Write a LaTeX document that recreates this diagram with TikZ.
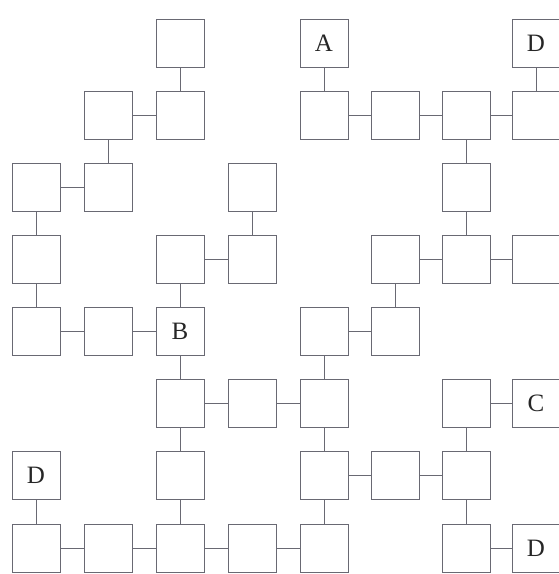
\documentclass[tikz,border=0pt]{standalone}
\usepackage{fontspec}
\setmainfont{Liberation Serif}
\definecolor{linec}{RGB}{105,105,115}
\begin{document}
\begin{tikzpicture}[x=1pt,y=-1pt,
  box/.style={draw=linec, line width=0.9pt, minimum size=48pt, inner sep=0pt,
    font=\fontsize{25}{25}\selectfont, text=black!85},
  conn/.style={draw=linec, line width=0.9pt}]
\useasboundingbox (0,0) rectangle (559,574);
\clip (0,0) rectangle (559,574);
% row 0
\node[box] (n20) at (180,43) {};
\node[box] (n40) at (324,43) {A};
\node[box] (n70) at (536,43) {D};
% row 1
\node[box] (n11) at (108,115) {};
\node[box] (n21) at (180,115) {};
\node[box] (n41) at (324,115) {};
\node[box] (n51) at (395,115) {};
\node[box] (n61) at (466,115) {};
\node[box] (n71) at (536,115) {};
% row 2
\node[box] (n02) at (36,187) {};
\node[box] (n12) at (108,187) {};
\node[box] (n32) at (252,187) {};
\node[box] (n62) at (466,187) {};
% row 3
\node[box] (n03) at (36,259) {};
\node[box] (n23) at (180,259) {};
\node[box] (n33) at (252,259) {};
\node[box] (n53) at (395,259) {};
\node[box] (n63) at (466,259) {};
\node[box] (n73) at (536,259) {};
% row 4
\node[box] (n04) at (36,331) {};
\node[box] (n14) at (108,331) {};
\node[box] (n24) at (180,331) {B};
\node[box] (n44) at (324,331) {};
\node[box] (n54) at (395,331) {};
% row 5
\node[box] (n25) at (180,403) {};
\node[box] (n35) at (252,403) {};
\node[box] (n45) at (324,403) {};
\node[box] (n65) at (466,403) {};
\node[box] (n75) at (536,403) {C};
% row 6
\node[box] (n06) at (36,475) {D};
\node[box] (n26) at (180,475) {};
\node[box] (n46) at (324,475) {};
\node[box] (n56) at (395,475) {};
\node[box] (n66) at (466,475) {};
% row 7
\node[box] (n07) at (36,548) {};
\node[box] (n17) at (108,548) {};
\node[box] (n27) at (180,548) {};
\node[box] (n37) at (252,548) {};
\node[box] (n47) at (324,548) {};
\node[box] (n67) at (466,548) {};
\node[box] (n77) at (536,548) {D};
% connectors
\draw[conn] (n20) -- (n21);
\draw[conn] (n11) -- (n21);
\draw[conn] (n11) -- (n12);
\draw[conn] (n02) -- (n12);
\draw[conn] (n02) -- (n03);
\draw[conn] (n03) -- (n04);
\draw[conn] (n32) -- (n33);
\draw[conn] (n23) -- (n33);
\draw[conn] (n23) -- (n24);
\draw[conn] (n04) -- (n14);
\draw[conn] (n14) -- (n24);
\draw[conn] (n24) -- (n25);
\draw[conn] (n25) -- (n35);
\draw[conn] (n35) -- (n45);
\draw[conn] (n44) -- (n45);
\draw[conn] (n44) -- (n54);
\draw[conn] (n53) -- (n54);
\draw[conn] (n53) -- (n63);
\draw[conn] (n63) -- (n73);
\draw[conn] (n62) -- (n63);
\draw[conn] (n61) -- (n62);
\draw[conn] (n41) -- (n51);
\draw[conn] (n51) -- (n61);
\draw[conn] (n61) -- (n71);
\draw[conn] (n40) -- (n41);
\draw[conn] (n70) -- (n71);
\draw[conn] (n25) -- (n26);
\draw[conn] (n26) -- (n27);
\draw[conn] (n06) -- (n07);
\draw[conn] (n07) -- (n17);
\draw[conn] (n17) -- (n27);
\draw[conn] (n27) -- (n37);
\draw[conn] (n37) -- (n47);
\draw[conn] (n45) -- (n46);
\draw[conn] (n46) -- (n47);
\draw[conn] (n46) -- (n56);
\draw[conn] (n56) -- (n66);
\draw[conn] (n65) -- (n66);
\draw[conn] (n66) -- (n67);
\draw[conn] (n65) -- (n75);
\draw[conn] (n67) -- (n77);
\end{tikzpicture}
\end{document}
